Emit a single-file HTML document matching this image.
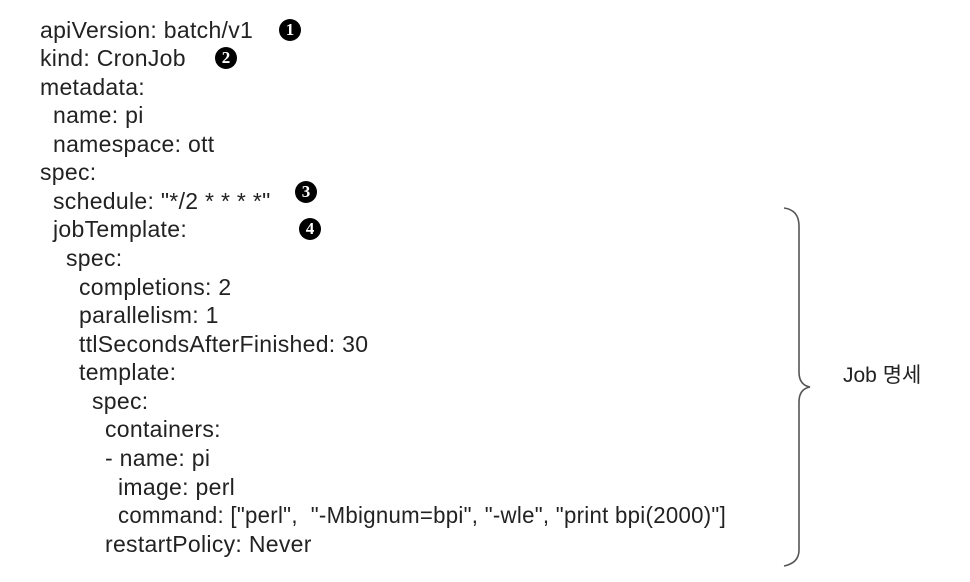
<!DOCTYPE html>
<html><head><meta charset="utf-8"><style>
html,body{margin:0;padding:0;background:#fff;}
body{width:970px;height:582px;position:relative;overflow:hidden;font-family:"Liberation Sans","Noto Sans CJK KR",sans-serif;color:#222;}
.l{position:absolute;font-size:23px;line-height:22px;white-space:pre;letter-spacing:0.3px;}
.m{position:absolute;width:22px;height:22px;border-radius:50%;background:#000;color:#fff;font-family:"Liberation Serif",serif;font-weight:bold;font-size:17px;line-height:22px;text-align:center;}
</style></head><body>
<div class="l" style="left:40px;top:19px">apiVersion: batch/v1</div>
<div class="l" style="left:40px;top:47px">kind: CronJob</div>
<div class="l" style="left:40px;top:76px">metadata:</div>
<div class="l" style="left:53px;top:104px">name: pi</div>
<div class="l" style="left:53px;top:133px">namespace: ott</div>
<div class="l" style="left:40px;top:161px">spec:</div>
<div class="l" style="left:53px;top:190px">schedule: "*/2 * * * *"</div>
<div class="l" style="left:53px;top:218px">jobTemplate:</div>
<div class="l" style="left:66px;top:247px">spec:</div>
<div class="l" style="left:79px;top:276px">completions: 2</div>
<div class="l" style="left:79px;top:304px">parallelism: 1</div>
<div class="l" style="left:79px;top:333px">ttlSecondsAfterFinished: 30</div>
<div class="l" style="left:79px;top:361px">template:</div>
<div class="l" style="left:92px;top:390px">spec:</div>
<div class="l" style="left:105px;top:418px">containers:</div>
<div class="l" style="left:105px;top:447px">- name: pi</div>
<div class="l" style="left:118px;top:476px">image: perl</div>
<div class="l" style="left:118px;top:504px;transform:scaleX(0.965);transform-origin:0 0">command: ["perl",  "-Mbignum=bpi", "-wle", "print bpi(2000)"]</div>
<div class="l" style="left:105px;top:533px">restartPolicy: Never</div>
<div class="m" style="left:279px;top:19px">1</div>
<div class="m" style="left:215px;top:47px">2</div>
<div class="m" style="left:295px;top:181px">3</div>
<div class="m" style="left:299px;top:218px">4</div>
<svg style="position:absolute;left:0;top:0" width="970" height="582">
<path d="M784 208 Q799 210 799 226 L799 372 Q799 385 810 387 Q799 389 799 402 L799 550 Q799 563 784 566" fill="none" stroke="#555" stroke-width="1.6"/>
</svg>
<div class="l" style="left:843px;top:365px;font-size:21px;letter-spacing:0">Job 명세</div>
</body></html>
